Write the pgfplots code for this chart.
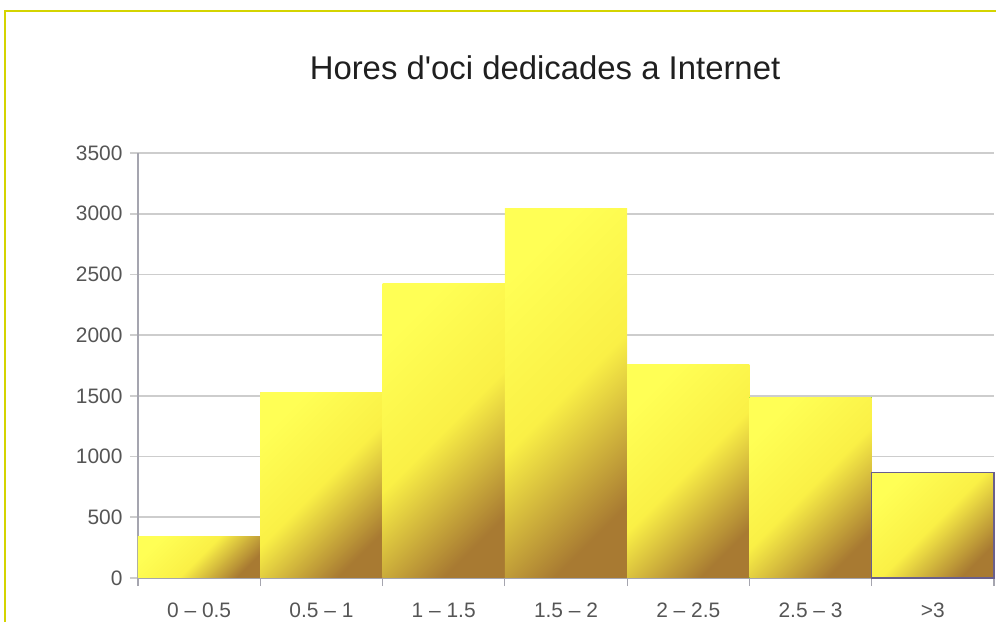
\documentclass[border=0pt]{standalone}
\usepackage{pgfplots}
\pgfplotsset{compat=1.18}
\usepackage{fontspec}
\setmainfont{Liberation Sans}
\definecolor{gridc}{RGB}{205,205,205}
\definecolor{axisc}{RGB}{165,165,175}
\definecolor{tickc}{RGB}{85,85,85}
\definecolor{bartop}{RGB}{255,255,85}
\definecolor{barmid}{RGB}{250,240,70}
\definecolor{barbot}{RGB}{168,122,50}
\definecolor{framec}{RGB}{212,212,0}
\definecolor{selc}{RGB}{105,95,140}
\begin{document}
\begin{tikzpicture}
\begin{axis}[
  at={(0,0)}, anchor=south west,
  scale only axis, width=856bp, height=425bp,
  xmin=-0.5, xmax=6.5, ymin=0, ymax=3500,
  ybar, bar width=1,
  axis x line*=bottom, axis y line*=left,
  axis line style={axisc, line width=1.5bp, -},
  ytick={0,500,...,3500},
  ymajorgrids, grid style={gridc, line width=1.8bp},
  tick align=outside, major tick length=8bp,
  ytick style={gridc, line width=1.8bp},
  xtick={0,...,6},
  xticklabels={0 – 0.5, 0.5 – 1, 1 – 1.5, 1.5 – 2, 2 – 2.5, 2.5 – 3, >3},
  xtick style={draw=none},
  extra x ticks={-0.5,0.5,1.5,2.5,3.5,4.5,5.5,6.5},
  extra x tick labels={},
  extra x tick style={grid=none, xtick style={draw=axisc, line width=1.2bp}},
  /pgf/number format/assume math mode=true,
  /pgf/number format/1000 sep={},
  scaled y ticks=false,
  yticklabel style={font=\fontsize{21}{24}\selectfont, color=tickc, xshift=-4bp},
  xticklabel style={font=\fontsize{21}{24}\selectfont, color=tickc, yshift=-13bp, text depth=0pt, text height=15bp},
  title={Hores d\textquotesingle oci dedicades a Internet},
  title style={at={(0.4755,1.187)}, anchor=center, font=\fontsize{33}{38}\selectfont, color=black!88},
  clip=false,
  every axis plot/.append style={bar shift=0pt, draw=none, top color=bartop, bottom color=barbot, middle color=barmid, shading angle=45},
]
\addplot coordinates {(0,340)};
\addplot coordinates {(1,1530)};
\addplot coordinates {(2,2425)};
\addplot coordinates {(3,3040)};
\addplot coordinates {(4,1760)};
\addplot coordinates {(5,1490)};
\addplot[draw=selc, line width=1.2bp] coordinates {(6,870)};
\end{axis}
\pgfresetboundingbox
\useasboundingbox (-138bp,-44bp) rectangle (858bp,578bp);
\draw[framec, line width=2.2bp] (-133bp,567bp) rectangle (900bp,-90bp);
\end{tikzpicture}
\end{document}
